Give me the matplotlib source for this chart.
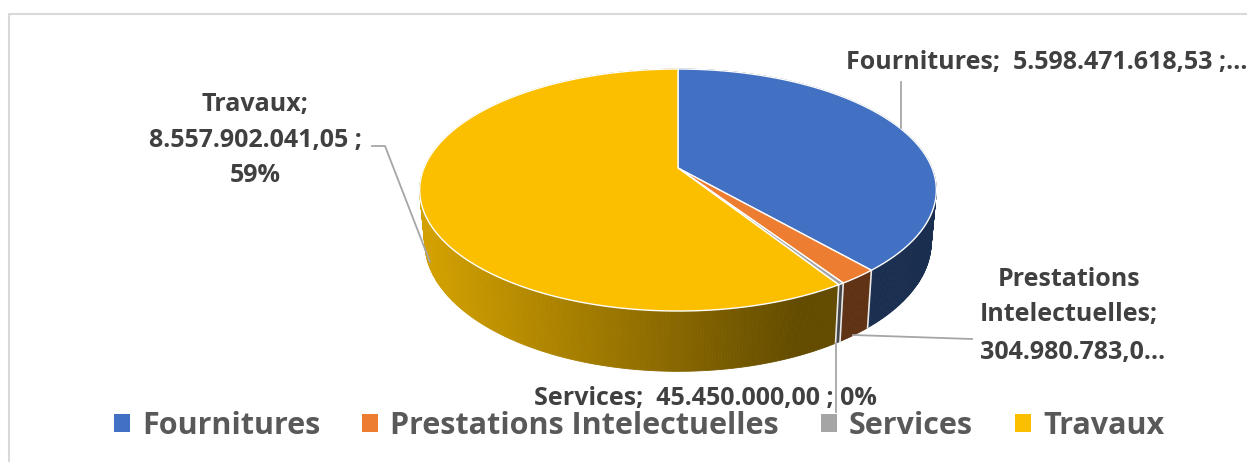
import numpy as np
import matplotlib
matplotlib.use("Agg")
import matplotlib.pyplot as plt
from matplotlib.patches import Patch

categories = ["Fournitures", "Prestations Intelectuelles", "Services", "Travaux"]
values = [5598471618.53, 304980783.0, 45450000.0, 8557902041.05]
top_colors = ["#4270C2", "#ED7D31", "#A5A5A5", "#FBBF00"]
side_colors = ["#1A2E50", "#5F3214", "#44464A", "#D2A000"]
side_dark_end = "#634B00"

plt.rcParams["font.family"] = ["Open Sans", "DejaVu Sans"]

fig = plt.figure(figsize=(12.47, 4.62), dpi=100)
ax = fig.add_axes([0, 0, 1, 1])
ax.set_xlim(0, 1247)
ax.set_ylim(462, 0)
ax.axis("off")

# frame of the chart area, only left and top are in the crop
ax.plot([9, 9, 1247], [462, 14, 14], color="#D9D9D9", lw=1.5)

# ---------------------------
# PIE GEOMETRY (tilted disc seen in perspective)
# ---------------------------
CX = 678
CY = 168


def top_disc(t):
    d = 1 + 0.182 * np.cos(t)
    return CX + 254 * np.sin(t) / d, CY - 117 * np.cos(t) / d


def bottom_disc(t):
    d = 1 + 0.182 * np.cos(t)
    return CX + 249 * np.sin(t) / d, 218.5 - 125 * np.cos(t) / d


def blend(c1, c2, f):
    a = np.array(matplotlib.colors.to_rgb(c1))
    b = np.array(matplotlib.colors.to_rgb(c2))
    return a + (b - a) * f


fracs = np.array(values) / sum(values)
edges = np.concatenate([[0], np.cumsum(fracs)]) * 2 * np.pi

# side walls first, the top slices cover the back part
for i in range(len(values)):
    a0, a1 = edges[i], edges[i + 1]
    n = max(int((a1 - a0) / 0.01), 2)
    ts = np.linspace(a0, a1, n + 1)
    for t0, t1 in zip(ts[:-1], ts[1:]):
        x0, y0 = top_disc(t0)
        x1, y1 = top_disc(t1)
        x2, y2 = bottom_disc(t1)
        x3, y3 = bottom_disc(t0)
        if categories[i] == "Travaux":
            f = np.clip((x0 - 430) / (800 - 430), 0, 1)
            col = blend(side_colors[i], side_dark_end, f)
        else:
            col = side_colors[i]
        ax.fill([x0, x1, x2, x3], [y0, y1, y2, y3], color=col, lw=0.6, zorder=2)

# light seams between the walls
for a in edges[1:4]:
    x0, y0 = top_disc(a)
    x1, y1 = bottom_disc(a)
    ax.plot([x0, x1], [y0, y1], color="#E8E8E8", lw=1.2, zorder=3)

# top slices
for i in range(len(values)):
    ts = np.linspace(edges[i], edges[i + 1], 200)
    x, y = top_disc(ts)
    ax.fill(np.r_[CX, x], np.r_[CY, y], facecolor=top_colors[i],
            edgecolor="white", lw=1.0, zorder=4)

# ---------------------------
# DATA LABELS AND LEADERS
# ---------------------------
label_color = "#404040"
label_size = 18


def leader(xs, ys):
    ax.plot(xs, ys, color="#A6A6A6", lw=1.3, zorder=5)


leader([901, 901], [82, 128])
leader([853, 972], [335, 339])
leader([836, 836], [343, 412])
leader([372, 385, 430], [146, 146, 262])

label_lines = [
    (1047, 63, "Fournitures;  5.598.471.618,53 ;…"),
    (1069, 280, "Prestations"),
    (1069, 315, "Intelectuelles;"),
    (1073, 352, "304.980.783,0…"),
    (705, 399, "Services;  45.450.000,00 ; 0%"),
    (255, 105, "Travaux;"),
    (255, 140, "8.557.902.041,05 ;"),
    (255, 175, "59%"),
]
for x, y, s in label_lines:
    ax.text(x, y, s, ha="center", va="center", fontsize=label_size,
            fontweight="bold", color=label_color, zorder=6)

# ---------------------------
# LEGEND
# ---------------------------
handles = [Patch(facecolor=c, edgecolor="none") for c in top_colors]
ax.legend(handles, categories, ncol=4, loc="center", bbox_to_anchor=(639 / 1247, 1 - 426 / 462),
          frameon=False, prop={"size": 22, "weight": "bold"}, labelcolor="#595959",
          handlelength=0.52, handleheight=0.52, handletextpad=0.4, columnspacing=1.37)

fig.savefig("out.png", dpi=100)
